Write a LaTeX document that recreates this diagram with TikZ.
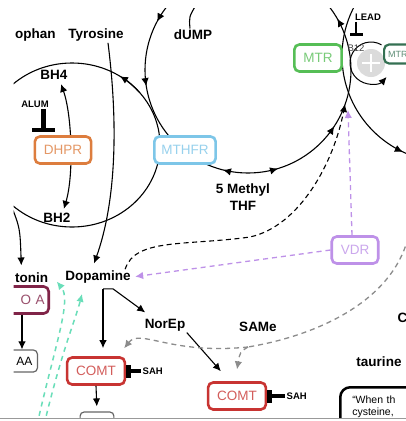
\documentclass[tikz,border=0pt]{standalone}
\usepackage{fontspec}
\setmainfont{Liberation Sans}
\usetikzlibrary{arrows.meta,positioning,decorations.markings,calc}

\definecolor{dhprorange}{RGB}{221,125,62}
\definecolor{mthfrblue}{RGB}{125,198,232}
\definecolor{mtrgreen}{RGB}{86,190,86}
\definecolor{mtrrgreen}{RGB}{52,112,82}
\definecolor{vdrpurple}{RGB}{190,145,232}
\definecolor{comtred}{RGB}{200,52,50}
\definecolor{maoared}{RGB}{128,36,72}
\definecolor{tealdash}{RGB}{105,222,185}

\tikzset{
	every node/.style={
		font=\bfseries\fontsize{13.5}{16}\selectfont,
		inner sep=1pt
	},
	enzyme/.style={
		shape=rectangle,
		rounded corners=5pt,
		draw=#1,
		text=#1!80,
		fill=white,
		line width=2.6pt,
		minimum height=27pt,
		inner xsep=9pt,
		font=\fontsize{13.5}{16}\selectfont
	},
	product/.style={
		shape=rectangle,
		rounded corners=4pt,
		draw=black!60,
		fill=white,
		line width=1.2pt,
		minimum height=22pt,
		inner xsep=5pt,
		font=\fontsize{12}{14}\selectfont
	},
	tag/.style={
		font=\bfseries\fontsize{9.5}{11}\selectfont
	},
	inhibit/.style={
		-{Bar[width=#1,line width=4.5pt]},
		line width=3.5pt
	},
	inhibit/.default=13pt,
	vdrdash/.style={
		draw=vdrpurple,
		dash pattern=on 5pt off 4pt,
		line width=1.3pt
	},
	samedash/.style={
		draw=black!45,
		dash pattern=on 5pt off 4pt,
		line width=1.3pt
	},
	tealline/.style={
		draw=tealdash,
		dash pattern=on 5pt off 4.5pt,
		line width=1.5pt
	}
}

\begin{document}
\begin{tikzpicture}[x=1pt,y=1pt,>={Latex[length=8pt,width=7.5pt]},line width=1.1pt]
\useasboundingbox (0,0) rectangle (406,-421);
\fill[white] (0,0) rectangle (406,-421);

\begin{scope}
\clip (13.5,-8) rectangle (406,-417.5);

% metabolites
\node[anchor=west] (trp) at (13.5,-35) {ophan};
\node (tyr) at (96,-35) {Tyrosine};
\node (dump) at (193,-35) {dUMP};
\node (bh4) at (54,-75) {BH4};
\node (bh2) at (57,-218) {BH2};
\node[align=center, font=\bfseries\fontsize{13.5}{17}\selectfont] (mthf) at (243,-197) {5 Methyl\\THF};
\node[anchor=west] (sero) at (13.5,-278) {tonin};
\node (dopa) at (98,-277) {Dopamine};
\node (norep) at (165,-325) {NorEp};
\node (same) at (258,-327) {SAMe};
\node (taur) at (379,-362) {taurine};
\node[anchor=west] (cys) at (396,-318) {C};

% cycles
\coordinate (bhc) at (72,-145);
\coordinate (folc) at (248,-70);
\coordinate (metc) at (448,-56);

\draw (bhc) ++(0:88) arc[start angle=0, end angle=360, x radius=88, y radius=82];
\draw[->] (bhc) ++(40:88 and 82) arc[start angle=40, end angle=57, x radius=88, y radius=82];

\draw[postaction={decorate}, decoration={markings,
    mark=at position 0.083 with {\arrow{>}},
    mark=at position 0.422 with {\arrow{>}},
    mark=at position 0.525 with {\arrow{>}},
    mark=at position 0.711 with {\arrowreversed{>}},
    mark=at position 0.797 with {\arrow{>}},
    mark=at position 0.908 with {\arrow{>}}}]
  (folc) ++(0:103) arc[start angle=0, end angle=360, radius=103];

\draw[postaction={decorate}, decoration={markings,
    mark=at position 0.68 with {\arrow{>}}}]
  (metc) ++(0:106) arc[start angle=0, end angle=360, radius=106];

\draw ([xshift=-3pt]dump.north) .. controls (189,-17) .. (196,-5);

% pathways in the left half
\coordinate (trpin) at (11,-205);
\draw[->, shorten >=6pt] (trpin) .. controls (20,-228) .. ([xshift=-10pt]sero.north);
\draw[->, shorten >=6pt] ([xshift=12pt]tyr.south) .. controls (119,-130) and (115,-205) .. ([xshift=-6pt]dopa.north);
\draw[<->, shorten >=3pt, shorten <=3pt] ([xshift=6pt]bh2.north) .. controls (74,-175) and (72,-115) .. ([xshift=6pt]bh4.south);

\coordinate (tealA) at (37,-425);
\coordinate (tealB) at (44,-425);
\draw[tealline, ->] (tealA) .. controls (55,-345) and (72,-300) .. ($(sero.east)!0.5!(dopa.west)+(0,-4)$);
\draw[tealline, ->] (tealB) .. controls (62,-350) and (76,-318) .. ($(dopa.south)+(-16,-9)$);

\coordinate (mtrin) at (345,-104);
\draw[->, dash pattern=on 5pt off 3.5pt] ([xshift=-7pt]dopa.north east) .. controls (135,-238) and (185,-246) .. (250,-237) .. controls (300,-226) and (334,-162) .. (mtrin);

% enzymes
\node[enzyme=dhprorange] (dhpr) at (63,-150) {DHPR};
\node[enzyme=mthfrblue, inner xsep=7pt] (mthfr) at (185,-150) {MTHFR};
\node[enzyme=mtrgreen] (mtr) at (318,-58) {MTR};
\node[enzyme=vdrpurple] (vdr) at (355,-250) {VDR};
\node[enzyme=comtred] (comta) at (96,-371) {COMT};
\node[enzyme=comtred] (comtb) at (237,-396) {COMT};
\node[enzyme=maoared, anchor=east, text width=48pt, align=right, inner xsep=4pt] (maoa) at (50,-300) {O A};
\node[product, anchor=east, text width=30pt, align=right] (hiaa) at (38,-361) {AA};
\node[product] (hva) at (97,-423) {HVA};

% catecholamines
\draw[->] ([xshift=-28pt]maoa.south east) -- ([xshift=-16pt]hiaa.north east);
\coordinate (dj) at ($(dopa.south)+(5,-4)$);
\draw[->, shorten >=8pt] (dj) -- (dj |- comta.north);
\draw[->] (dj) -- ++(10,0) -- ($(norep.north west)+(2,5)$);
\draw[->] (norep.south east) -- ($(comtb.north west)+(14,10)$);
\draw[->, shorten >=5pt] (comta.south) -- (hva.north);

% SAMe supply
\coordinate (samein) at (408,-238);
\coordinate (samej) at (248,-347);
\draw[samedash] (samein) .. controls (392,-300) and (320,-335) .. (samej);
\draw[samedash, ->, shorten >=12pt] (samej) .. controls (240,-352) .. ([xshift=-2pt]comtb.north);
\draw[samedash, ->, shorten >=10pt] (samej) .. controls (170,-355) and (140,-328) .. ([xshift=22pt]comta.north);

% vitamin D receptor
\coordinate (vdrtip) at (348,-110);
\draw[vdrdash, ->] ([xshift=-3pt]vdr.north) -- (vdrtip);
\draw[vdrdash, ->, shorten >=3pt] (vdr.west) -- (dopa.east);

% inhibitors
\node[tag] (alum) at (35,-104) {ALUM};
\draw[inhibit=23pt, line width=5pt, shorten >=3pt] ([xshift=8pt]alum.south) -- ([xshift=8pt]alum.south |- dhpr.north);
\node[tag, right=15pt of comta] (saha) {SAH};
\draw[inhibit] (saha.west) -- (comta.east);
\node[tag, right=18pt of comtb] (sahb) {SAH};
\draw[inhibit] (sahb.west) -- (comtb.east);

% B12 recycling
\coordinate (cobc) at (371,-63);
\fill[gray!28] (cobc) circle[radius=14];
\draw[white, line width=2pt] ($(cobc)+(-9,0)$) -- ($(cobc)+(9,0)$) ($(cobc)+(0,-9)$) -- ($(cobc)+(0,9)$);
\draw[->, line width=1pt] ($(cobc)+(60:21)$) arc[start angle=60, end angle=318, radius=21];
\node[enzyme=mtrrgreen, anchor=west, minimum height=19pt, inner xsep=4pt, line width=2.2pt, font=\fontsize{9}{10}\selectfont] (mtrr) at (383,-54) {MTRR};
\node[font=\fontsize{9.5}{11}\selectfont, text=black!75] (b12) at (356,-48) {B12};
\node[tag] (lead) at (368,-17) {LEAD};
\draw[-{Bar[width=13pt,line width=3pt]}, line width=1.6pt, shorten >=7pt] (lead.south -| b12) -- (b12);

% quote box
\node[draw, line width=2.5pt, rounded corners=10pt, anchor=north west, text width=90pt, align=left, inner xsep=12pt, inner ysep=3pt, minimum height=40pt, font=\fontsize{10.5}{12}\selectfont] (quote) at (339,-386) {“When th\\cysteine,};
\end{scope}

\draw[black!40, line width=1.5pt] (0,-418.5) -- (406,-418.5);
\end{tikzpicture}
\end{document}
